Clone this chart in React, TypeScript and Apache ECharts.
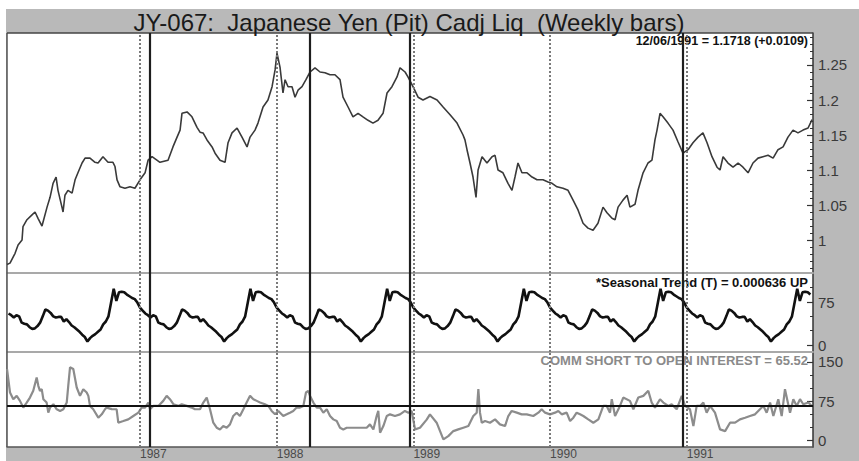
import React, { useEffect, useRef } from "react";
import * as echarts from "echarts";

// ---------- data ----------
const X_MIN = 1986.027; // first weekly bar
const X_MAX = 1991.923; // 12/06/1991

const yearTicks = [1987, 1988, 1989, 1990, 1991];
const eventDates = [1987.073, 1988.236, 1988.975, 1990.972];

const priceTicks = [1, 1.05, 1.1, 1.15, 1.2, 1.25];
const seasonalTicks = [0, 75];
const seasonalMinor = [25, 50, 100];
const cotTicks = [0, 75, 150];
const cotMinor = [25, 50, 100, 125];
const cotLevel = 65.52;

const P_MIN = 0.9529, P_MAX = 1.2957;
const S_MIN = -12.2, S_MAX = 125.6;
const C_MIN = -12.4, C_MAX = 169.1;

// weekly close, [decimal year, price]
const price: [number, number][] = [
  [1986.027,0.965],[1986.049,0.967],[1986.086,0.981],[1986.108,0.993],[1986.137,1.0],[1986.144,1.019],[1986.173,1.029],[1986.21,1.036],[1986.232,1.04],[1986.254,1.031],[1986.283,1.02],[1986.32,1.047],[1986.342,1.061],[1986.364,1.081],[1986.386,1.09],[1986.4,1.071],[1986.429,1.047],[1986.437,1.04],[1986.451,1.064],[1986.473,1.071],[1986.503,1.067],[1986.525,1.086],[1986.546,1.096],[1986.576,1.11],[1986.598,1.117],[1986.634,1.117],[1986.671,1.111],[1986.693,1.11],[1986.729,1.119],[1986.766,1.111],[1986.802,1.111],[1986.817,1.105],[1986.832,1.086],[1986.854,1.076],[1986.89,1.074],[1986.927,1.076],[1986.963,1.074],
  [1987.0,1.086],[1987.037,1.096],[1987.059,1.114],[1987.088,1.119],[1987.146,1.111],[1987.205,1.114],[1987.241,1.133],[1987.271,1.147],[1987.293,1.157],[1987.307,1.181],[1987.344,1.183],[1987.38,1.176],[1987.417,1.161],[1987.439,1.154],[1987.461,1.153],[1987.49,1.143],[1987.527,1.133],[1987.549,1.124],[1987.585,1.114],[1987.622,1.111],[1987.644,1.139],[1987.673,1.153],[1987.71,1.16],[1987.746,1.147],[1987.783,1.133],[1987.805,1.147],[1987.841,1.157],[1987.863,1.167],[1987.9,1.19],[1987.936,1.2],[1987.966,1.219],[1987.988,1.243],
  [1988.002,1.267],[1988.024,1.247],[1988.046,1.21],[1988.061,1.229],[1988.083,1.219],[1988.112,1.219],[1988.134,1.204],[1988.156,1.214],[1988.185,1.219],[1988.214,1.229],[1988.244,1.24],[1988.28,1.246],[1988.317,1.24],[1988.353,1.239],[1988.39,1.236],[1988.426,1.236],[1988.463,1.229],[1988.485,1.204],[1988.522,1.19],[1988.558,1.176],[1988.595,1.181],[1988.631,1.176],[1988.668,1.171],[1988.704,1.167],[1988.741,1.171],[1988.778,1.181],[1988.807,1.21],[1988.843,1.219],[1988.88,1.233],[1988.902,1.246],[1988.939,1.24],[1988.96,1.233],[1988.997,1.219],
  [1989.034,1.204],[1989.07,1.2],[1989.121,1.205],[1989.173,1.2],[1989.217,1.19],[1989.268,1.179],[1989.319,1.167],[1989.363,1.15],[1989.377,1.143],[1989.392,1.129],[1989.414,1.11],[1989.436,1.09],[1989.458,1.061],[1989.473,1.1],[1989.502,1.119],[1989.538,1.11],[1989.575,1.119],[1989.597,1.121],[1989.619,1.1],[1989.655,1.096],[1989.692,1.081],[1989.721,1.071],[1989.743,1.09],[1989.765,1.11],[1989.794,1.096],[1989.831,1.096],[1989.868,1.09],[1989.904,1.086],[1989.948,1.086],[1989.985,1.083],
  [1990.014,1.081],[1990.05,1.076],[1990.094,1.074],[1990.131,1.071],[1990.168,1.057],[1990.204,1.043],[1990.241,1.024],[1990.277,1.017],[1990.314,1.014],[1990.35,1.024],[1990.387,1.047],[1990.416,1.039],[1990.453,1.031],[1990.475,1.029],[1990.497,1.047],[1990.533,1.057],[1990.563,1.064],[1990.584,1.047],[1990.621,1.051],[1990.643,1.071],[1990.68,1.096],[1990.716,1.11],[1990.745,1.114],[1990.767,1.143],[1990.782,1.157],[1990.804,1.181],[1990.826,1.176],[1990.862,1.167],[1990.899,1.157],[1990.936,1.14],[1990.972,1.124],
  [1991.009,1.129],[1991.045,1.139],[1991.082,1.147],[1991.118,1.153],[1991.148,1.139],[1991.184,1.119],[1991.221,1.104],[1991.243,1.1],[1991.265,1.119],[1991.301,1.11],[1991.338,1.104],[1991.375,1.11],[1991.411,1.104],[1991.448,1.096],[1991.484,1.11],[1991.521,1.117],[1991.557,1.119],[1991.594,1.121],[1991.631,1.117],[1991.667,1.129],[1991.704,1.133],[1991.74,1.147],[1991.777,1.157],[1991.813,1.153],[1991.85,1.157],[1991.887,1.16],[1991.916,1.172],
];

// seasonal trend, one value per week of the year (the pattern repeats every year)
const seasonalByWeek = [65,60,55,52,48,52,50,39,37,36,31,28,29,33,39,50,62,60,56,50,48,49,49,41,45,40,34,31,27,23,18,14,6,12,16,19,23,27,36,41,50,74,98,77,92,93,92,88,85,82,80,74];
const seasonYears = [1986, 1987, 1988, 1989, 1990, 1991];

// commercial short to open interest, [decimal year, value]
const cot: [number, number][] = [
  [1986.027,136.6],[1986.049,91.7],[1986.073,78.9],[1986.098,85.3],[1986.122,75.7],[1986.146,62.9],[1986.171,72.5],[1986.195,82.1],[1986.219,94.9],[1986.244,120.5],[1986.256,104.5],[1986.268,94.9],[1986.281,98.1],[1986.293,78.9],[1986.317,72.5],[1986.329,53.2],[1986.342,62.9],[1986.366,69.3],[1986.391,59.7],[1986.415,56.5],[1986.439,59.7],[1986.464,72.5],[1986.475,104.5],[1986.488,139.8],[1986.512,136.6],[1986.537,101.3],[1986.561,85.3],[1986.585,98.1],[1986.61,91.7],[1986.622,85.3],[1986.634,66.1],[1986.658,59.7],[1986.695,43.6],[1986.72,50.0],[1986.744,59.7],[1986.756,62.9],[1986.793,60],[1986.829,59.7],[1986.841,34.0],[1986.878,37.2],[1986.914,40.4],[1986.951,46.8],[1986.988,53.2],
  [1987.012,62.9],[1987.037,62.9],[1987.061,72.5],[1987.073,59.7],[1987.097,66.1],[1987.134,66.1],[1987.17,75.7],[1987.195,85.3],[1987.219,78.9],[1987.244,69.3],[1987.28,66.1],[1987.305,69.3],[1987.342,66.1],[1987.378,62.9],[1987.402,59.7],[1987.439,59.7],[1987.463,72.5],[1987.488,82.1],[1987.512,59.7],[1987.536,34.0],[1987.561,24.4],[1987.585,21.2],[1987.609,27.6],[1987.634,24.4],[1987.658,30.8],[1987.682,46.8],[1987.707,53.2],[1987.731,46.8],[1987.756,59.7],[1987.78,72.5],[1987.805,85.3],[1987.829,78.9],[1987.854,75.7],[1987.878,72.5],[1987.914,69.3],[1987.939,66.1],[1987.963,56.5],[1987.988,50.0],
  [1988.012,56.5],[1988.048,46.8],[1988.073,50.0],[1988.097,53.2],[1988.121,56.5],[1988.146,62.9],[1988.17,62.9],[1988.195,66.1],[1988.214,91.7],[1988.231,94.9],[1988.244,85.3],[1988.268,72.5],[1988.293,62.9],[1988.317,62.9],[1988.341,53.2],[1988.366,59.7],[1988.39,46.8],[1988.414,40.4],[1988.439,37.2],[1988.463,24.4],[1988.487,21.2],[1988.512,24.4],[1988.549,24.4],[1988.585,24.4],[1988.622,24.4],[1988.658,24.4],[1988.682,30.8],[1988.707,21.2],[1988.731,46.8],[1988.743,56.5],[1988.756,14.8],[1988.78,27.6],[1988.805,46.8],[1988.829,50.0],[1988.865,46.8],[1988.902,50.0],[1988.938,56.5],[1988.963,53.2],[1988.987,56.5],
  [1989.012,21.2],[1989.048,24.4],[1989.097,40],[1989.121,50],[1989.17,34.0],[1989.219,2.0],[1989.255,8.4],[1989.292,18.0],[1989.328,21.2],[1989.365,24.4],[1989.402,27.6],[1989.438,46.8],[1989.463,53.2],[1989.475,98.1],[1989.487,53.2],[1989.5,34.0],[1989.524,37.2],[1989.56,34.0],[1989.597,40.4],[1989.633,30.8],[1989.67,27.6],[1989.694,46.8],[1989.719,56.5],[1989.756,53.2],[1989.792,50.0],[1989.829,50.0],[1989.877,46.8],[1989.914,53.2],[1989.938,59.7],[1989.963,53.2],[1989.999,50.0],
  [1990.036,53.2],[1990.06,56.5],[1990.085,50.0],[1990.121,53.2],[1990.146,37.2],[1990.17,43.6],[1990.194,53.2],[1990.219,50.0],[1990.243,46.8],[1990.279,40.4],[1990.316,34.0],[1990.353,40.4],[1990.389,66.1],[1990.414,66.1],[1990.438,53.2],[1990.451,78.9],[1990.475,46.8],[1990.511,66.1],[1990.535,82.1],[1990.584,75.7],[1990.609,59.7],[1990.645,82.1],[1990.682,85.3],[1990.718,94.9],[1990.743,72.5],[1990.767,62.9],[1990.804,78.9],[1990.828,72.5],[1990.865,66.1],[1990.889,69.3],[1990.926,59.7],[1990.963,85.3],[1990.987,66.1],
  [1991.023,59.7],[1991.048,27.6],[1991.072,66.1],[1991.097,66.1],[1991.121,72.5],[1991.145,53.2],[1991.17,66.1],[1991.206,53.2],[1991.243,21.2],[1991.28,18.0],[1991.316,34.0],[1991.353,34.0],[1991.389,40.4],[1991.426,43.6],[1991.462,46.8],[1991.499,50.0],[1991.535,59.7],[1991.56,66.1],[1991.584,53.2],[1991.609,72.5],[1991.633,46.8],[1991.669,78.9],[1991.694,46.8],[1991.718,98.1],[1991.755,53.2],[1991.779,78.9],[1991.804,66.1],[1991.828,78.9],[1991.852,69.3],[1991.889,72.5],[1991.916,65.5],
];

const titleText = "JY-067:  Japanese Yen (Pit) Cadj Liq  (Weekly bars)";
const priceNote = "12/06/1991 = 1.1718 (+0.0109)";
const seasonalNote = "*Seasonal Trend (T) = 0.000636 UP";
const cotNote = "COMM SHORT TO OPEN INTEREST = 65.52";

// ---------- helpers ----------
const FONT = '"Liberation Sans", Arial, Helvetica, sans-serif';

function buildSeasonal(): [number, number][] {
  const out: [number, number][] = [];
  seasonYears.forEach((yr) => {
    seasonalByWeek.forEach((v, w) => {
      const x = yr + w / 52;
      if (x >= X_MIN && x <= X_MAX) out.push([x, v]);
    });
  });
  return out;
}

function priceMinorTicks(): number[] {
  const out: number[] = [];
  for (let i = 96; i <= 129; i++) if (i % 5 !== 0) out.push(i / 100);
  return out;
}

const vLines = [
  ...yearTicks.map((y) => ({ xAxis: y, lineStyle: { type: [2, 2], color: "#7a7a7a", width: 2 } })),
  ...eventDates.map((d) => ({ xAxis: d, lineStyle: { type: "solid", color: "#1e1e1e", width: 2.2 } })),
];

function markLines(extra: any[] = []) {
  return {
    silent: true,
    symbol: ["none", "none"],
    label: { show: false },
    emphasis: { disabled: true },
    animation: false,
    data: [...vLines, ...extra],
  };
}

function xAxisFor(gridIndex: number, lineColor: string, lineWidth: number, labels: boolean) {
  return {
    type: "value",
    gridIndex,
    min: X_MIN,
    max: X_MAX,
    axisLine: { show: true, onZero: false, lineStyle: { color: lineColor, width: lineWidth } },
    axisTick: { show: false },
    splitLine: { show: false },
    axisLabel: labels
      ? {
          show: true,
          customValues: yearTicks,
          formatter: (v: number) => String(Math.round(v)),
          align: "left",
          color: "#4a4a4a",
          fontSize: 12,
          lineHeight: 12,
          fontFamily: FONT,
          margin: 1,
        }
      : { show: false },
  };
}

function yMajor(gridIndex: number, min: number, max: number, ticks: number[]) {
  return {
    type: "value",
    gridIndex,
    position: "right",
    min,
    max,
    axisLine: { show: true, onZero: false, lineStyle: { color: "#333", width: 1.5 } },
    axisTick: { show: true, inside: true, length: 6, customValues: ticks, lineStyle: { color: "#333", width: 1.2 } },
    axisLabel: {
      show: true,
      customValues: ticks,
      formatter: (v: number) => String(+v.toFixed(2)),
      color: "#3a3a3a",
      fontSize: 15,
      fontFamily: FONT,
      margin: 5,
    },
    splitLine: { show: false },
  };
}

function yMinor(gridIndex: number, min: number, max: number, ticks: number[]) {
  return {
    type: "value",
    gridIndex,
    position: "right",
    min,
    max,
    axisLine: { show: false, onZero: false },
    axisTick: { show: true, inside: true, length: 3, customValues: ticks, lineStyle: { color: "#333", width: 1 } },
    axisLabel: { show: false },
    splitLine: { show: false },
  };
}

export default function App() {
  const ref = useRef<HTMLDivElement>(null);

  useEffect(() => {
    if (!ref.current) return;
    const chart = echarts.init(ref.current, undefined, { renderer: "svg" });

    const gridBase = { left: 1, width: 806, show: true, backgroundColor: "#ffffff", borderWidth: 0, containLabel: false, outerBoundsMode: "none" };

    chart.setOption({
      animation: false,
      backgroundColor: "#b9b9b9",
      textStyle: { fontFamily: FONT },
      grid: [
        { ...gridBase, top: 24, height: 240 },
        { ...gridBase, top: 264, height: 79 },
        { ...gridBase, top: 343, height: 95 },
      ],
      xAxis: [
        xAxisFor(0, "#a9a9a9", 2, false),
        xAxisFor(1, "#a9a9a9", 2, false),
        xAxisFor(2, "#555", 1.5, true),
      ],
      yAxis: [
        yMajor(0, P_MIN, P_MAX, priceTicks),
        yMinor(0, P_MIN, P_MAX, priceMinorTicks()),
        yMajor(1, S_MIN, S_MAX, seasonalTicks),
        yMinor(1, S_MIN, S_MAX, seasonalMinor),
        yMajor(2, C_MIN, C_MAX, cotTicks),
        yMinor(2, C_MIN, C_MAX, cotMinor),
      ],
      series: [
        {
          name: "Price",
          type: "line",
          xAxisIndex: 0,
          yAxisIndex: 0,
          data: price,
          symbol: "none",
          showSymbol: false,
          lineStyle: { color: "#3a3a3a", width: 1.6 },
          markLine: markLines(),
        },
        {
          name: "Seasonal Trend",
          type: "line",
          xAxisIndex: 1,
          yAxisIndex: 2,
          data: buildSeasonal(),
          symbol: "none",
          showSymbol: false,
          lineStyle: { color: "#111", width: 2.6 },
          markLine: markLines(),
        },
        {
          name: "Comm short to open interest",
          type: "line",
          xAxisIndex: 2,
          yAxisIndex: 4,
          data: cot,
          symbol: "none",
          showSymbol: false,
          lineStyle: { color: "#8c8c8c", width: 2.2 },
          markLine: markLines([
            { yAxis: cotLevel, lineStyle: { type: "solid", color: "#111", width: 2 } },
          ]),
        },
      ],
      graphic: [
        { type: "line", z: 1, shape: { x1: 1, y1: 24, x2: 1, y2: 438 }, style: { stroke: "#555", lineWidth: 1.5 } },
        { type: "line", z: 1, shape: { x1: 1, y1: 24, x2: 807, y2: 24 }, style: { stroke: "#444", lineWidth: 1.5 } },
        {
          type: "text", z: 5, x: 403, y: 13,
          style: { text: titleText, font: `24px ${FONT}`, fill: "#1a1a1a", align: "center", verticalAlign: "middle" },
        },
        {
          type: "text", z: 1, x: 802, y: 32,
          style: { text: priceNote, font: `bold 12.5px ${FONT}`, fill: "#111", align: "right", verticalAlign: "middle" },
        },
        {
          type: "text", z: 1, x: 802, y: 273,
          style: { text: seasonalNote, font: `bold 13px ${FONT}`, fill: "#111", align: "right", verticalAlign: "middle" },
        },
        {
          type: "text", z: 1, x: 802, y: 351,
          style: { text: cotNote, font: `bold 13px ${FONT}`, fill: "#8a8a8a", align: "right", verticalAlign: "middle" },
        },
      ],
    });

    return () => chart.dispose();
  }, []);

  return (
    <div
      ref={ref}
      style={{ position: "absolute", left: 6, top: 9, width: 853, height: 452 }}
    />
  );
}
